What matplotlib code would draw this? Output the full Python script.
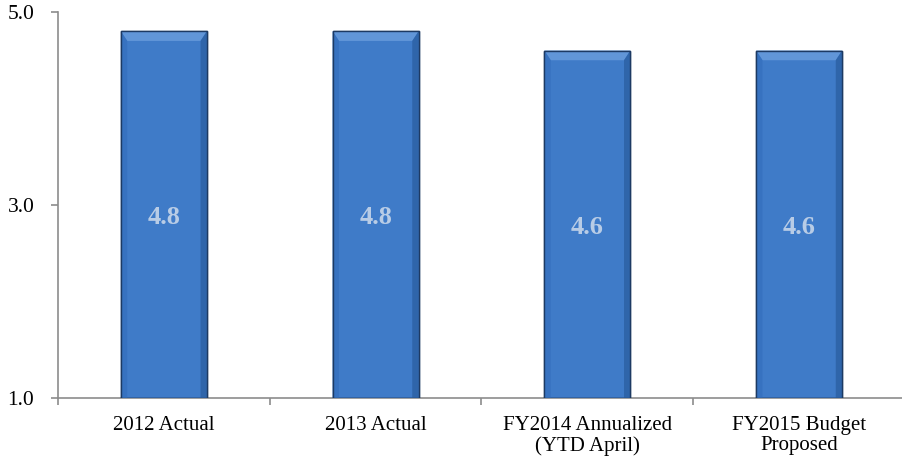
import matplotlib.pyplot as plt
import numpy as np

categories = ["2012 Actual", "2013 Actual", "FY2014 Annualized\n(YTD April)", "FY2015 Budget\nProposed"]
values = [4.8, 4.8, 4.6, 4.6]
y_ticks = [1.0, 3.0, 5.0]

plt.rcParams['font.family'] = ['Liberation Serif', 'DejaVu Serif']

W, H = 903, 458
fig = plt.figure(figsize=(W / 100, H / 100), dpi=100)
ax = fig.add_axes([58 / W, 60 / H, 847 / W, 386 / H])

x = np.arange(len(categories))
bar_w = 0.406
base = 1.0
bars = ax.bar(x, np.array(values) - base, bottom=base, width=bar_w,
              color='#3f7bc8', edgecolor='#1d3a63', linewidth=1.0, zorder=3)

# bevel: lighter top strip and shaded sides
for b in bars:
    x0, w = b.get_x(), b.get_width()
    top = b.get_y() + b.get_height()
    ax.fill([x0, x0 + w, x0 + w - 0.03, x0 + 0.03], [top, top, top - 0.1, top - 0.1],
            color='#6196d8', zorder=4, linewidth=0)
    ax.fill([x0, x0 + 0.03, x0 + 0.03, x0], [top, top - 0.1, base, base],
            color='#3772c0', zorder=4, linewidth=0)
    ax.fill([x0 + w, x0 + w - 0.03, x0 + w - 0.03, x0 + w], [top, top - 0.1, base, base],
            color='#2f65aa', zorder=4, linewidth=0)
    ax.plot([x0, x0 + w, x0 + w, x0, x0], [base, base, top, top, base],
            color='#1d3a63', linewidth=1.0, zorder=5)

for xi, v in zip(x, values):
    ax.text(xi, (v + base) / 2 - 0.03, f"{v:.1f}", ha='center', va='center',
            fontsize=19, fontweight='bold', color='#b8cce6', zorder=6)

ax.set_xlim(-0.5, len(categories) - 0.5)
ax.set_ylim(1.0, 5.0)
ax.set_yticks(y_ticks)
ax.set_yticklabels([f"{t:.1f}" for t in y_ticks], fontsize=15.5)
ax.set_xticks(x)
ax.set_xticklabels(categories, fontsize=15, linespacing=1.1)
ax.tick_params(axis='x', which='major', length=0, pad=13)
ax.set_xticks(np.arange(-0.5, len(categories) - 0.5, 1.0), minor=True)
ax.tick_params(axis='x', which='minor', length=5, color='#8c8c8c', width=1.2)
ax.tick_params(axis='y', length=5, color='#8c8c8c', width=1.2, pad=12)

for side in ['top', 'right']:
    ax.spines[side].set_visible(False)
for side in ['left', 'bottom']:
    ax.spines[side].set_color('#8c8c8c')
    ax.spines[side].set_linewidth(1.2)

fig.savefig('out.png', dpi=100)
